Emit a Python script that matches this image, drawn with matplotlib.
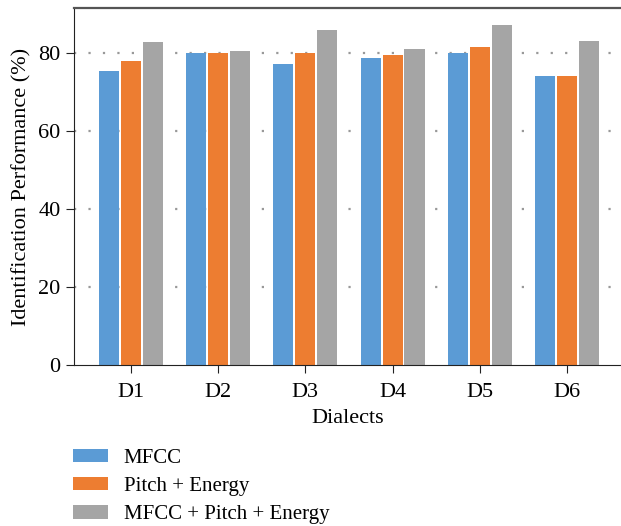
import numpy as np
import matplotlib.pyplot as plt

plt.rcParams['font.family'] = ['Liberation Serif', 'DejaVu Serif']

dialects = ["D1", "D2", "D3", "D4", "D5", "D6"]
mfcc = [75.3, 79.9, 77.1, 78.6, 79.9, 74.0]
pitch_energy = [77.9, 79.9, 79.9, 79.4, 81.5, 74.0]
combined = [82.7, 80.4, 85.8, 81.0, 87.1, 83.0]

series = [
    ("MFCC", mfcc, "#5B9BD5"),
    ("Pitch + Energy", pitch_energy, "#ED7D31"),
    ("MFCC + Pitch + Energy", combined, "#A5A5A5"),
]

fig = plt.figure(figsize=(6.21, 5.26), dpi=100)
ax = fig.add_axes([0.119, 0.306, 0.881, 0.679])

x = np.arange(len(dialects))
w = 0.23
step = 0.252
for i, (name, vals, col) in enumerate(series):
    ax.bar(x + (i - 1) * step, vals, width=w, color=col, label=name, zorder=2)

ax.set_xlim(-0.654, 5.62)
ax.set_ylim(0, 91.5)
ax.set_yticks([0, 20, 40, 60, 80])
ax.set_xticks(x)
ax.set_xticklabels(dialects)

for yv in [20, 40, 60, 80]:
    ax.axhline(yv, color="#999999", linestyle=(0, (1, 5.5)), linewidth=1.6, zorder=1)

ax.spines['right'].set_visible(False)
ax.spines['top'].set_color("#555555")
ax.spines['top'].set_linewidth(1.6)
ax.spines['left'].set_color("#222222")
ax.spines['bottom'].set_color("#222222")
ax.tick_params(axis='both', labelsize=16, color="#222222", length=6)
ax.tick_params(axis='x', pad=7)

ax.set_xlabel("Dialects", fontsize=16, labelpad=5)
ax.set_ylabel("Identification Performance (%)", fontsize=16, labelpad=5)

fig.legend(loc="upper left", bbox_to_anchor=(0.10, 0.167), frameon=False,
           fontsize=15, handlelength=1.7, handleheight=0.6, labelspacing=0.45,
           handletextpad=0.75, borderpad=0)

fig.savefig("out.png", dpi=100)
